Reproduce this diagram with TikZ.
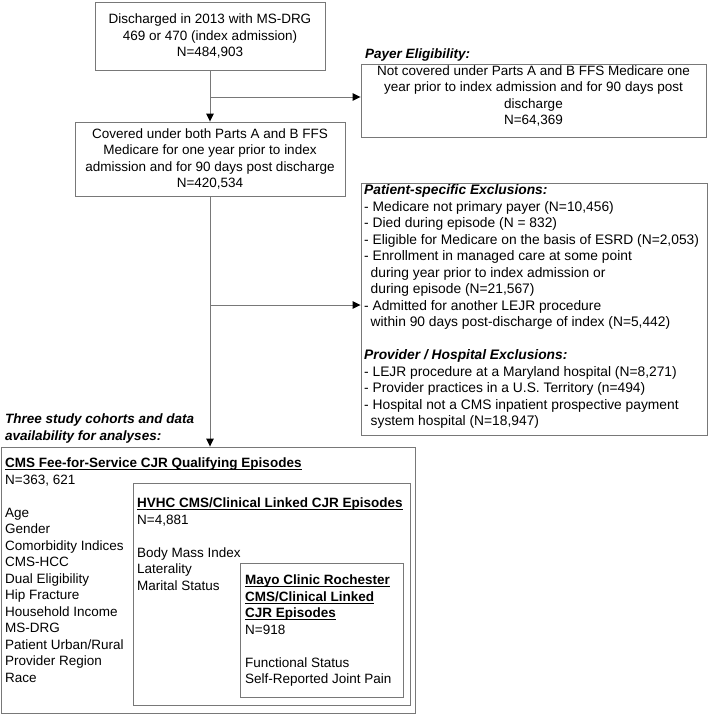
\documentclass[tikz,border=0pt]{standalone}
\usepackage{fontspec}
\setmainfont{Liberation Sans}
\usetikzlibrary{arrows.meta}
\definecolor{edge}{RGB}{120,120,120}
\newcommand{\fstrut}{\rule{0pt}{13pt}}
\newsavebox{\ulbox}
\newcommand{\ubf}[1]{\sbox{\ulbox}{\textbf{#1}}\rlap{\rule[-2.4pt]{\wd\ulbox}{0.9pt}}\usebox{\ulbox}}
\begin{document}
\begin{tikzpicture}[x=1pt,y=-1pt,
  box/.style={draw=edge, line width=0.9pt, inner sep=0pt, rectangle},
  ft/.style={font=\fontsize{13.5}{16.5}\selectfont},
  ctxt/.style={ft, align=center},
  txt/.style={ft, inner sep=0pt, align=left, anchor=north west},
  conn/.style={draw=edge, line width=0.9pt, -{Triangle[length=8pt,width=7.5pt,color=black]}}]
\useasboundingbox (0,0) rectangle (709,715);

% boxes
\node[box, ctxt, minimum width=230pt, minimum height=68pt] (b1) at (210,36)
  {Discharged in 2013 with MS-DRG\\469 or 470 (index admission)\\N=484,903};
\node[box, ctxt, minimum width=270pt, minimum height=74pt] (b2) at (210,159)
  {Covered under both Parts A and B FFS\\Medicare for one year prior to index\\admission and for 90 days post discharge\\N=420,534};
\node[box, minimum width=345pt, minimum height=73pt] (pay) at (533.5,100.5) {};
\node[box, minimum width=346pt, minimum height=252pt] (pat) at (534,309) {};
\node[box, minimum width=414pt, minimum height=266pt] (big) at (208,580) {};
\node[box, minimum width=277pt, minimum height=222pt] (hv) at (271.5,594) {};
\node[box, minimum width=163pt, minimum height=134pt] (mayo) at (321.5,630) {};

% texts (north west placed at first baseline - 13)
\node[ft, inner sep=0pt, align=center, anchor=north] (paytxt) at (533.5,62)
  {\fstrut Not covered under Parts A and B FFS Medicare one\\year prior to index admission and for 90 days post\\discharge\\N=64,369};
\node[txt] (paylab) at (365,45) {\fstrut\textbf{\textit{Payer Eligibility:}}};
\node[txt, font=\fontsize{13.8}{16.5}\selectfont] (pattxt) at (364,181.5) {\fstrut\textbf{\textit{Patient-specific Exclusions:}}\\
- Medicare not primary payer (N=10,456)\\
- Died during episode (N = 832)\\
- Eligible for Medicare on the basis of ESRD (N=2,053)\\
- Enrollment in managed care at some point\\
\hspace*{6.5pt}during year prior to index admission or\\
\hspace*{6.5pt}during episode (N=21,567)\\
- Admitted for another LEJR procedure\\
\hspace*{6.5pt}within 90 days post-discharge of index (N=5,442)\\[16.5pt]
\textbf{\textit{Provider / Hospital Exclusions:}}\\
- LEJR procedure at a Maryland hospital (N=8,271)\\
- Provider practices in a U.S. Territory (n=494)\\
- Hospital not a CMS inpatient prospective payment\\
\hspace*{6.5pt}system hospital (N=18,947)};
\node[txt] (cohlab) at (5,410.5) {\fstrut\textbf{\textit{Three study cohorts and data}}\\\textbf{\textit{availability for analyses:}}};
\node[txt] (bigtxt) at (5,454.5) {\fstrut\ubf{CMS Fee-for-Service CJR Qualifying Episodes}\\
N=363, 621\\[16.5pt]
Age\\Gender\\Comorbidity Indices\\CMS-HCC\\Dual Eligibility\\Hip Fracture\\Household Income\\MS-DRG\\Patient Urban/Rural\\Provider Region\\Race};
\node[txt] (hvtxt) at (137,494.5) {\fstrut\ubf{HVHC CMS/Clinical Linked CJR Episodes}\\
N=4,881\\[16.5pt]
Body Mass Index\\Laterality\\Marital Status};
\node[txt] (mayotxt) at (245,571.5) {\fstrut\ubf{Mayo Clinic Rochester}\\
\ubf{CMS/Clinical Linked}\\
\ubf{CJR Episodes}\\
N=918\\[16.5pt]
Functional Status\\Self-Reported Joint Pain};

% connectors
\coordinate (j1) at (210,97);
\coordinate (j2) at (210,305);
\draw[conn] (b1.south) -- (b2.north);
\draw[conn] (j1) -- (j1 -| pay.west);
\draw[conn] (b2.south) -- (b2.south |- big.north);
\draw[conn] (j2) -- (j2 -| pat.west);
\end{tikzpicture}
\end{document}
